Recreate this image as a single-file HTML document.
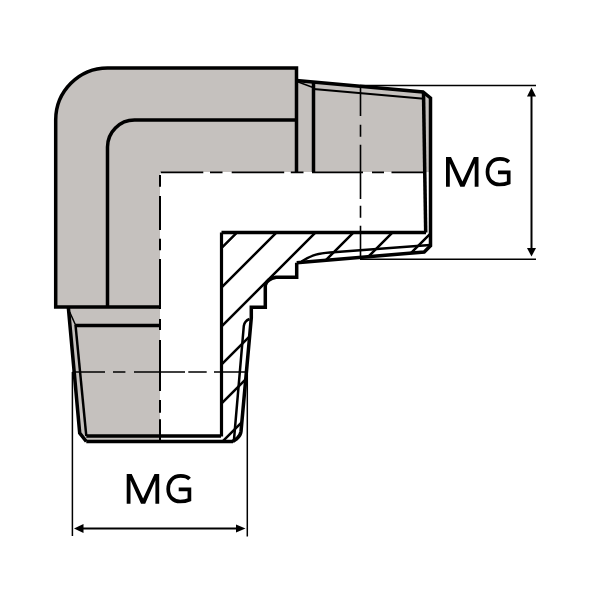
<!DOCTYPE html>
<html><head><meta charset="utf-8">
<style>
html,body{margin:0;padding:0;background:#fff;width:600px;height:600px;overflow:hidden}
svg{display:block}
text{font-family:"Liberation Sans",sans-serif}
</style></head>
<body>
<svg width="600" height="600" viewBox="0 0 600 600">
<defs>
<clipPath id="hc">
<path d="M221.5,232.5 H430 V245.8 L424.2,252 L296.7,262.7 V277.3 H276 Q267,279 265.3,285.3 V307.3 H251.3 V318 L240.9,433.6 L232.7,441.8 H221.5 Z"/>
</clipPath>
</defs>
<!-- gray fill -->
<path fill="#c5c1be" d="M55.7,307 V120 A52,52 0 0 1 107.5,68 H296 V81 L423,92 L430.5,98 V172 H160 V441.5 H86.3 L79.7,433 L68.3,307 Z"/>
<!-- hatched section -->
<path fill="#fff" d="M221.5,232.5 H430 V245.8 L424.2,252 L296.7,262.7 V277.3 H276 Q267,279 265.3,285.3 V307.3 H251.3 V318 L240.9,433.6 L232.7,441.8 H221.5 Z"/>
<g clip-path="url(#hc)" stroke="#000" stroke-width="2.5" fill="none">
<path d="M469.5,0 L0,469.5 M509,0 L0,509 M548,0 L0,548 M586,0 L0,586 M625,0 L0,625 M664,0 L0,664"/>
</g>

<g fill="none" stroke="#000" stroke-linejoin="miter">
<!-- body outer -->
<path stroke-width="3.5" d="M160,307 H55.7 V120 A52,52 0 0 1 107.5,68 H296.5 V172"/>
<path stroke-width="3.5" d="M107.5,307 V147 A27,27 0 0 1 134.5,120 H296"/>
<!-- right thread -->
<path stroke-width="3.5" d="M296.5,80.5 L423,92 L430.5,98 V245.8 L424.2,252 L296.7,262.7"/>
<path stroke-width="3.5" d="M313.5,82.5 V172"/>
<path stroke-width="3.5" d="M423.5,92 L425.7,232.5"/>
<path stroke-width="2" d="M313.5,89 L424,98.7"/>
<path stroke-width="1.5" d="M297,81.5 L313,87.5"/>
<!-- hatched outline -->
<path stroke-width="3.5" d="M221.5,232.5 H426"/>
<path stroke-width="3.2" d="M221.5,232.5 V436.5"/>
<path stroke-width="3.5" d="M296.7,262.7 V277.3 H276 Q267,279 265.3,285.3 V307.3 H251.3 V318 L241,431.5 Q240.5,435.5 237,438.5 L232.7,441.5"/>
<path stroke-width="2.5" d="M430,245 L330,252.5 C319,253.3 313,254.5 301.5,261.5"/>
<path stroke-width="2.5" d="M249.5,319 Q244.5,321 243.8,326 L233.9,440.6"/>
<!-- bottom -->
<path stroke-width="3.5" d="M86.3,441.5 H233"/>
<path stroke-width="3.5" d="M86.3,436 H221"/>
<!-- left thread -->
<path stroke-width="3.5" d="M68.3,307 L79.7,433 L86.3,441.5"/>
<path stroke-width="2.5" d="M75.5,325 L86.3,436"/>
<path stroke-width="1.5" d="M69.7,312 L75.5,325"/>
<path stroke-width="3.5" d="M75.5,325.4 H160"/>
</g>

<!-- chain lines -->
<g fill="none" stroke="#000">
<path stroke-width="1.7" d="M160.7,172.3 H203.3 M210,172.3 H222.5 M231.7,172.3 H284.2 M290.8,172.3 H303.5 M312,172.3 H363 M372,172.3 H384 M391.5,172.3 H425"/>
<path stroke-width="2" d="M160,175 V186.7 M160,196 V230 M160,238.7 V250.3 M160,259 V309 M160,319 V330 M160,340 V391 M160,400 V412.7 M160,419.3 V441"/>
<path stroke-width="1.7" d="M72.5,372 H105 M113,372 H125.4 M134,372 H185 M188.3,372 H206.7 M214,372 H247"/>
<path stroke-width="1.6" d="M360.5,85 V116 M360.5,124.7 V136.7 M360.5,144.7 V199 M360.5,205.7 V217.7 M360.5,225.7 V256"/>
</g>

<!-- dimension lines -->
<g fill="none" stroke="#000">
<path stroke-width="1.4" d="M360,85.5 H536"/>
<path stroke-width="1.4" d="M360,259.3 H536"/>
<path stroke-width="2" d="M531.5,94 V250"/>
<path stroke-width="1.5" d="M72.4,372 V536"/>
<path stroke-width="1.5" d="M247.3,365 V536.5"/>
<path stroke-width="2" d="M80,528.5 H240"/>
</g>
<g fill="#000">
<path d="M531.5,87.5 L536,96.5 L527,96.5 Z"/>
<path d="M531.5,256.5 L536,248 L527,248 Z"/>
<path d="M74,528.5 L83.5,524 L83.5,533 Z"/>
<path d="M245.5,528.5 L236,524.5 L236,532.5 Z"/>
</g>

<defs><g id="mg">
<path fill="#000" d="M0,0 V-29.7 H5 L16.4,-5.2 L27.8,-29.7 H32.5 V0 H28.7 V-23.5 L18.5,0 H14.3 L3.8,-23.5 V0 Z"/>
<path fill="none" stroke="#000" stroke-width="3.7" d="M62.8,-24.8 C60.8,-27 57.5,-27.9 54,-27.9 C46,-27.9 41.5,-22 41.5,-14.8 C41.5,-7 46.5,-2.3 53.5,-2.3 C57.5,-2.3 60.3,-3 62.7,-4 V-14.5 H52"/>
</g></defs>
<use href="#mg" transform="translate(126.7,503.8)"/>
<use href="#mg" transform="translate(446,186.8)"/>
</svg>
</body></html>
